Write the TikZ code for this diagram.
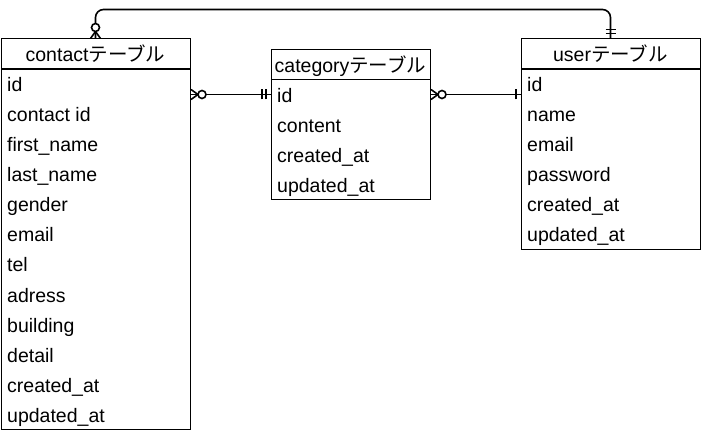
\documentclass[tikz,border=0pt]{standalone}
\usepackage{fontspec}
\setmainfont{Liberation Sans}
\newfontfamily\jpfont{Noto Sans CJK JP}
\usetikzlibrary{calc}

\newcommand\erfont{\fontsize{19.5pt}{23pt}\selectfont}

\tikzset{
  tblhead/.style={draw, line width=1pt, minimum height=30pt, inner sep=0pt,
                  text height=16pt, text depth=0pt, font=\erfont},
  tblbody/.style={draw, line width=1pt, anchor=north west, inner sep=0pt},
  tblrow/.style={anchor=west, inner sep=0pt, text height=16pt, text depth=0pt, font=\erfont},
  rel/.style={line width=1.6pt},
  % crow's foot: zero or many
  zeromany/.pic={
    \draw[rel] (0,-5) -- (7,0) -- (0,5);
    \draw[rel] (0,0) -- (7,0);
    \draw[rel, fill=white] (11,0) circle (4pt);
  },
  % one and only one
  mandone/.pic={
    \draw[rel] (5,-5) -- (5,5);
    \draw[rel] (9,-5) -- (9,5);
  },
  % one
  justone/.pic={
    \draw[rel] (5,-5) -- (5,5);
  }
}

\begin{document}
\begin{tikzpicture}[x=1pt, y=-1pt]

\useasboundingbox (0,0) rectangle (701,430);

\def\rowh{30}

% contact table
\node[tblhead, minimum width=189pt] (conhead) at (95.5, 54) {contact{\jpfont テーブル}};
\node[tblbody, minimum width=189pt, minimum height=12*\rowh] (con) at (1, 69) {};
\foreach \f [count=\i] in {id, contact id, first\_name, last\_name, gender, email, tel,
                          adress, building, detail, created\_at, updated\_at} {
    \node[tblrow] (con-\i) at (7, 54+\rowh*\i) {\f};
}

% category table
\node[tblhead, minimum width=159pt] (cathead) at (350.5, 64.5) {category{\jpfont テーブル}};
\node[tblbody, minimum width=159pt, minimum height=4*\rowh] (cat) at (271, 79.5) {};
\foreach \f [count=\i] in {id, content, created\_at, updated\_at} {
    \node[tblrow] (cat-\i) at (277, 64.5+\rowh*\i) {\f};
}

% user table
\node[tblhead, minimum width=179pt] (usrhead) at (610.5, 54) {user{\jpfont テーブル}};
\node[tblbody, minimum width=179pt, minimum height=6*\rowh] (usr) at (521, 69) {};
\foreach \f [count=\i] in {id, name, email, password, created\_at, updated\_at} {
    \node[tblrow] (usr-\i) at (527, 54+\rowh*\i) {\f};
}

% contact -- user
\draw[rel, rounded corners=8pt] (conhead.north) -- ++(0,-29) -| (usrhead.north);
\pic[rotate=90] at (conhead.north) {zeromany};
\pic[rotate=90] at (usrhead.north) {mandone};

% contact -- category
\draw[rel] (con.east |- cat-1) -- (cat.west |- cat-1);
\pic at (con.east |- cat-1) {zeromany};
\pic[rotate=180] at (cat.west |- cat-1) {mandone};

% category -- user
\draw[rel] (cat.east |- cat-1) -- (usr.west |- cat-1);
\pic at (cat.east |- cat-1) {zeromany};
\pic[rotate=180] at (usr.west |- cat-1) {justone};

\end{tikzpicture}
\end{document}
